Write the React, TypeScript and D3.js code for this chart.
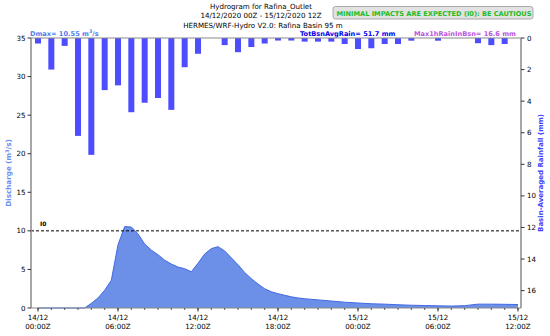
import React from 'react';
import * as d3 from 'd3';

// hourly basin-averaged rainfall (mm), hours 0..36 from 14/12 00Z
const rainHours = d3.range(0, 37);
const rainValues = [
  0.35, 2.0, 0.5, 6.2, 7.4, 3.3, 3.0, 4.7, 4.1, 3.8, 4.55, 1.85, 1.0, 0,
  0.45, 0.9, 0.57, 0.35, 0.16, 0.16, 0.23, 0.23, 0.23, 0.38, 0.7, 0.65, 0.38,
  0.38, 0.17, 0, 0.17, 0, 0, 0.33, 0.45, 0.38, 0,
];

// discharge (m3/s)
const dischargeHours = [
  0, 1, 2, 3, 3.5, 4, 4.5, 5, 5.5, 6, 6.5, 7, 7.5, 8, 8.5, 9, 9.5, 10, 10.5,
  11, 11.5, 12, 12.5, 13, 13.5, 14, 14.5, 15, 15.5, 16, 16.5, 17, 17.5, 18,
  18.5, 19, 19.5, 20, 21, 22, 23, 24, 25, 26, 27, 28, 29, 30, 31, 32, 33, 34,
  35, 36,
];
const dischargeValues = [
  0, 0, 0, 0, 0, 0.6, 1.3, 2.3, 3.6, 8.2, 10.55, 10.5, 9.6, 8.3, 7.5, 6.9,
  6.2, 5.7, 5.3, 5.1, 4.7, 5.8, 7.0, 7.7, 7.95, 7.4, 6.5, 5.6, 4.6, 3.8, 3.1,
  2.5, 2.1, 1.85, 1.65, 1.45, 1.3, 1.2, 1.05, 0.9, 0.75, 0.65, 0.55, 0.5,
  0.42, 0.36, 0.32, 0.28, 0.25, 0.3, 0.5, 0.5, 0.48, 0.45,
];

const dischargeTicks = [0, 5, 10, 15, 20, 25, 30, 35];
const rainTicks = [0, 2, 4, 6, 8, 10, 12, 14, 16];
const timeTicks = [0, 6, 12, 18, 24, 30, 36];
const timeTickDates = ['14/12', '14/12', '14/12', '14/12', '15/12', '15/12', '15/12'];
const timeTickHours = ['00:00Z', '06:00Z', '12:00Z', '18:00Z', '00:00Z', '06:00Z', '12:00Z'];
const thresholdI0 = 10;

const W = 550;
const H = 336;
const left = 31;
const right = 521;
const top = 38;
const bottom = 308;
const font = 'DejaVu Sans, sans-serif';
const fs = 7.1;

const App: React.FC = () => {
  const x = d3.scaleLinear().domain([-0.525, 36.225]).range([left, right]);
  const yQ = d3.scaleLinear().domain([0, 35]).range([bottom, top]);
  const yR = d3.scaleLinear().domain([0, 17.1]).range([top, bottom]);

  const pts: [number, number][] = dischargeHours.map((h, i) => [h, dischargeValues[i]]);
  const area = d3.area<[number, number]>()
    .x(d => x(d[0]))
    .y0(yQ(0))
    .y1(d => yQ(d[1]));
  const line = d3.line<[number, number]>()
    .x(d => x(d[0]))
    .y(d => yQ(d[1]));

  const barW = x(0.45) - x(0);
  const axisCol = '#8a8a8a';

  return (
    <svg width={W} height={H} style={{ position: 'fixed', left: 0, top: 0 }} fontFamily={font}>
      <rect width={W} height={H} fill="#fff" />

      {/* titles */}
      <g fontSize={7.1} textAnchor="middle" fill="#000">
        <text x={261} y={9.3}>Hydrogram for Rafina_Outlet</text>
        <text x={261} y={18.4}>14/12/2020 00Z - 15/12/2020 12Z</text>
        <text x={263} y={27.6}>HERMES/WRF-Hydro V2.0: Rafina Basin 95 m</text>
      </g>
      <rect x={333} y={6.5} width={200} height={12.5} rx={2.5} fill="#e2e2e2" stroke="#a8a8a8" />
      <text x={434} y={15.6} textAnchor="middle" fontSize={6.6} fontWeight="bold" fill="#22bb22">
        MINIMAL IMPACTS ARE EXPECTED (I0): BE CAUTIOUS
      </text>

      {/* discharge area */}
      <path d={area(pts) ?? ''} fill="#6c8fe8" />
      <path d={line(pts) ?? ''} fill="none" stroke="#4169e1" strokeWidth={1} />

      {/* rain bars */}
      {rainHours.map((h, i) =>
        rainValues[i] > 0 ? (
          <rect key={h} x={x(h) - barW / 2} y={yR(0)} width={barW}
            height={yR(rainValues[i]) - yR(0)} fill="#4d4dff" />
        ) : null
      )}

      {/* threshold */}
      <line x1={left} x2={right} y1={yQ(thresholdI0)} y2={yQ(thresholdI0)}
        stroke="#000" strokeDasharray="3,2" strokeWidth={1} />
      <text x={40} y={yQ(thresholdI0) - 5} fontSize={6} fontWeight="bold">I0</text>

      {/* frame */}
      <line x1={left} x2={right} y1={top} y2={top} stroke={axisCol} strokeWidth={1.2} />
      <line x1={left} x2={right} y1={bottom} y2={bottom} stroke={axisCol} strokeWidth={1.2} />
      <line x1={left} x2={left} y1={top} y2={bottom} stroke={axisCol} strokeWidth={1.5} />
      <line x1={right} x2={right} y1={top} y2={bottom} stroke={axisCol} strokeWidth={1.5} />

      {/* left axis */}
      <g fontSize={fs} textAnchor="end">
        {dischargeTicks.map(t => (
          <g key={t}>
            <line x1={left - 3.5} x2={left} y1={yQ(t)} y2={yQ(t)} stroke="#333" />
            <text x={left - 5.5} y={yQ(t) + 2.6}>{t}</text>
          </g>
        ))}
      </g>
      <text transform={`translate(11,${(top + bottom) / 2}) rotate(-90)`} textAnchor="middle"
        fontSize={7.2} fontWeight="bold" fill="#6b8ff0">
        Discharge (m<tspan fontSize={5} dy={-2.5}>3</tspan><tspan dy={2.5}>/s)</tspan>
      </text>

      {/* right axis */}
      <g fontSize={fs} textAnchor="start">
        {rainTicks.map(t => (
          <g key={t}>
            <line x1={right} x2={right + 3.5} y1={yR(t)} y2={yR(t)} stroke="#333" />
            <text x={right + 6} y={yR(t) + 2.6}>{t}</text>
          </g>
        ))}
      </g>
      <text transform={`translate(543,${(top + bottom) / 2}) rotate(-90)`} textAnchor="middle"
        fontSize={7} fontWeight="bold" fill="#4040ff">
        Basin-Averaged Rainfall (mm)
      </text>

      {/* bottom axis */}
      {rainHours.map(h => (
        <line key={h} x1={x(h)} x2={x(h)} y1={bottom} y2={bottom + 2} stroke="#333" strokeWidth={0.8} />
      ))}
      <g fontSize={fs} textAnchor="middle">
        {timeTicks.map((t, i) => (
          <g key={t}>
            <line x1={x(t)} x2={x(t)} y1={bottom} y2={bottom + 3.5} stroke="#333" />
            <text x={x(t)} y={bottom + 11.5}>{timeTickDates[i]}</text>
            <text x={x(t)} y={bottom + 20.5}>{timeTickHours[i]}</text>
          </g>
        ))}
      </g>

      {/* annotations */}
      <text x={30} y={35.5} fontSize={6.6} fontWeight="bold" fill="#4f7cf0">
        Dmax= 10.55 m<tspan fontSize={4.8} dy={-2.5}>3</tspan><tspan dy={2.5}>/s</tspan>
      </text>
      <text x={300} y={36.3} fontSize={6.6} fontWeight="bold" fill="#0000ee">TotBsnAvgRain= 51.7 mm</text>
      <text x={414} y={36.3} fontSize={6.6} fontWeight="bold" fill="#bb55dd">Max1hRainInBsn= 16.6 mm</text>
    </svg>
  );
};

export default App;
